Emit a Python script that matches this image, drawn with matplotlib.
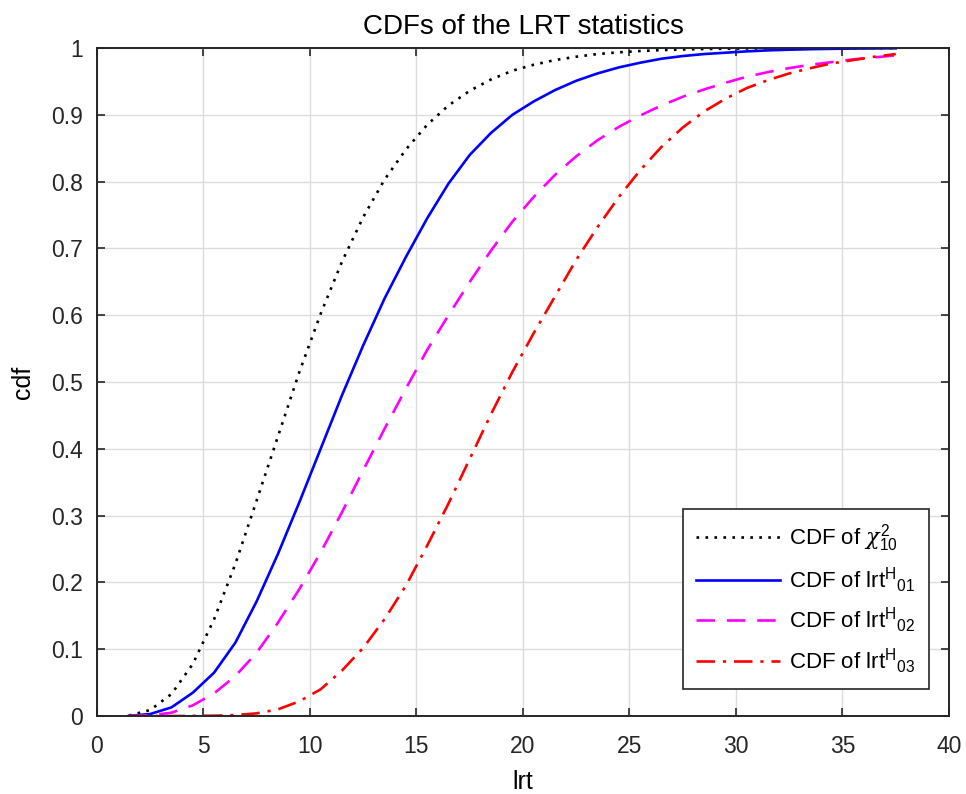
import matplotlib
matplotlib.use("Agg")
import matplotlib.pyplot as plt

# lrt sample points shared by every curve
lrt = [1.5, 2.5, 3.5, 4.5, 5.5, 6.5, 7.5, 8.5, 9.5, 10.5, 11.5, 12.5, 13.5,
       14.5, 15.5, 16.5, 17.5, 18.5, 19.5, 20.5, 21.5, 22.5, 23.5, 24.5, 25.5,
       26.5, 27.5, 28.5, 29.5, 30.5, 31.5, 32.5, 33.5, 34.5, 35.5, 36.5, 37.5]

# CDF values
cdf_chi2 = [0.0008, 0.009, 0.033, 0.078, 0.145, 0.228, 0.323, 0.419, 0.515,
            0.602, 0.680, 0.747, 0.803, 0.848, 0.885, 0.914, 0.936, 0.953,
            0.966, 0.975, 0.982, 0.987, 0.991, 0.9936, 0.9955, 0.9969, 0.9978,
            0.9985, 0.999, 0.9993, 0.9995, 0.9997, 0.9998, 0.9999, 0.9999,
            1.0, 1.0]
cdf_h01 = [0.0003, 0.003, 0.013, 0.035, 0.065, 0.11, 0.172, 0.243, 0.32,
           0.40, 0.48, 0.555, 0.625, 0.687, 0.745, 0.797, 0.840, 0.873, 0.900,
           0.920, 0.937, 0.951, 0.962, 0.971, 0.978, 0.984, 0.988, 0.991, 0.993,
           0.995, 0.9965, 0.9975, 0.9983, 0.9988, 0.9992, 0.9994, 0.9996]
cdf_h02 = [0.0001, 0.001, 0.005, 0.016, 0.034, 0.06, 0.095, 0.14, 0.19,
           0.245, 0.305, 0.368, 0.43, 0.49, 0.548, 0.60, 0.65, 0.697, 0.74,
           0.777, 0.81, 0.838, 0.862, 0.882, 0.899, 0.914, 0.927, 0.938, 0.948,
           0.957, 0.964, 0.970, 0.975, 0.979, 0.983, 0.986, 0.989]
cdf_h03 = [0.0, 0.0, 0.0, 0.0002, 0.0005, 0.0015, 0.004, 0.01, 0.022, 0.040,
           0.068, 0.102, 0.145, 0.195, 0.255, 0.318, 0.385, 0.452, 0.515, 0.573,
           0.628, 0.683, 0.732, 0.777, 0.817, 0.852, 0.881, 0.905, 0.924, 0.94,
           0.952, 0.962, 0.97, 0.977, 0.982, 0.987, 0.991]

labels = [r'CDF of $\chi^2_{10}$',
          r'CDF of lrt$^{\mathrm{H}}{}_{\mathrm{01}}$',
          r'CDF of lrt$^{\mathrm{H}}{}_{\mathrm{02}}$',
          r'CDF of lrt$^{\mathrm{H}}{}_{\mathrm{03}}$']

plt.rcParams['font.family'] = ['Liberation Sans', 'DejaVu Sans']
plt.rcParams['mathtext.fontset'] = 'custom'
plt.rcParams['mathtext.rm'] = 'Liberation Sans'
plt.rcParams['mathtext.it'] = 'DejaVu Serif:italic'

fig = plt.figure(figsize=(9.66, 7.94), dpi=100)
ax = fig.add_axes([0.1004, 0.0982, 0.8820, 0.8413])

ax.plot(lrt, cdf_chi2, color='black', linestyle=(0, (1, 2.4)), linewidth=1.9, label=labels[0])
ax.plot(lrt, cdf_h01, color='#0000ff', linestyle='-', linewidth=1.9, label=labels[1])
ax.plot(lrt, cdf_h02, color='#ff00ff', linestyle=(0, (7, 4.5)), linewidth=1.9, label=labels[2])
ax.plot(lrt, cdf_h03, color='#ff0000', linestyle=(0, (7, 3, 1.2, 3)), linewidth=1.9, label=labels[3])

ax.set_xlim(0, 40)
ax.set_ylim(0, 1)
ax.set_xticks(range(0, 41, 5))
ax.set_yticks([i / 10 for i in range(11)])
ax.set_yticklabels(['0', '0.1', '0.2', '0.3', '0.4', '0.5', '0.6', '0.7', '0.8', '0.9', '1'])
ax.tick_params(direction='in', length=6, width=1.2, top=True, right=True,
               labelsize=16.5, colors='#262626')
ax.tick_params(axis='x', pad=14)
ax.tick_params(axis='y', pad=10)
ax.grid(True, color='#dcdcdc', linewidth=1.0)
ax.set_axisbelow(True)
for s in ax.spines.values():
    s.set_color('#262626')
    s.set_linewidth(1.4)

ax.set_title('CDFs of the LRT statistics', fontsize=20, pad=10)
ax.set_xlabel('lrt', fontsize=18, labelpad=8)
ax.set_ylabel('cdf', fontsize=18, labelpad=12)

leg = ax.legend(loc='lower right', fontsize=16, handlelength=3.8, handletextpad=0.4,
                labelspacing=0.5, fancybox=False, edgecolor='#262626', framealpha=1,
                borderpad=0.6, borderaxespad=0, bbox_to_anchor=(0.976, 0.04))
leg.get_frame().set_linewidth(1.2)

fig.savefig('out.png', dpi=100)
